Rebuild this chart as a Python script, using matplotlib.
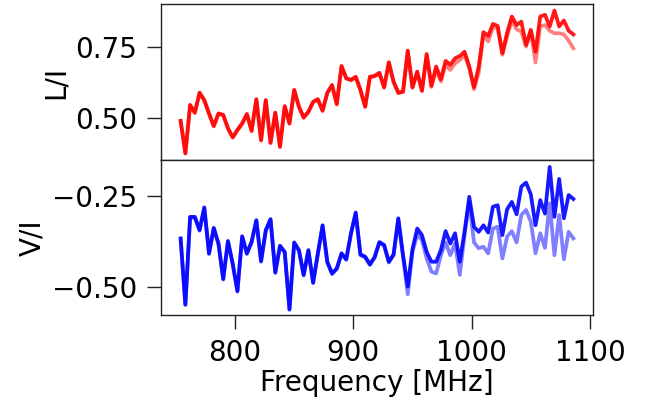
import numpy as np
import matplotlib
matplotlib.use("Agg")
import matplotlib.pyplot as plt

freq = [754 + 4 * k for k in range(84)]

li_a = [0.489, 0.375, 0.545, 0.518, 0.588, 0.562, 0.515, 0.471, 0.515, 0.510,
        0.463, 0.431, 0.457, 0.480, 0.513, 0.454, 0.565, 0.421, 0.562, 0.412,
        0.518, 0.398, 0.541, 0.480, 0.598, 0.539, 0.501, 0.521, 0.556, 0.565,
        0.525, 0.588, 0.615, 0.548, 0.682, 0.639, 0.633, 0.644, 0.598, 0.539,
        0.644, 0.647, 0.658, 0.607, 0.695, 0.627, 0.588, 0.592, 0.736, 0.607,
        0.662, 0.595, 0.724, 0.612, 0.680, 0.635, 0.700, 0.686, 0.709, 0.717,
        0.732, 0.680, 0.607, 0.680, 0.801, 0.788, 0.830, 0.823, 0.727, 0.799,
        0.856, 0.826, 0.838, 0.756, 0.809, 0.732, 0.856, 0.862, 0.821, 0.877,
        0.821, 0.842, 0.806, 0.793]

li_b = [0.487, 0.373, 0.543, 0.516, 0.586, 0.560, 0.513, 0.469, 0.513, 0.508,
        0.461, 0.429, 0.455, 0.478, 0.511, 0.452, 0.563, 0.419, 0.560, 0.410,
        0.516, 0.396, 0.539, 0.478, 0.596, 0.537, 0.499, 0.519, 0.554, 0.563,
        0.523, 0.586, 0.613, 0.546, 0.680, 0.637, 0.631, 0.642, 0.596, 0.537,
        0.642, 0.645, 0.656, 0.605, 0.693, 0.625, 0.586, 0.590, 0.734, 0.605,
        0.660, 0.593, 0.720, 0.608, 0.668, 0.627, 0.686, 0.668, 0.691, 0.703,
        0.721, 0.674, 0.600, 0.658, 0.791, 0.768, 0.818, 0.815, 0.721, 0.785,
        0.842, 0.811, 0.803, 0.750, 0.803, 0.694, 0.821, 0.826, 0.806, 0.797,
        0.797, 0.793, 0.771, 0.744]

vi_a = [-0.366, -0.547, -0.307, -0.307, -0.343, -0.281, -0.407, -0.337, -0.380, -0.477,
        -0.373, -0.435, -0.510, -0.360, -0.407, -0.375, -0.316, -0.428, -0.343, -0.313,
        -0.459, -0.386, -0.403, -0.560, -0.377, -0.398, -0.466, -0.398, -0.487, -0.407,
        -0.330, -0.430, -0.462, -0.448, -0.407, -0.423, -0.352, -0.295, -0.410, -0.416,
        -0.437, -0.417, -0.376, -0.384, -0.430, -0.410, -0.311, -0.412, -0.498, -0.395,
        -0.339, -0.357, -0.403, -0.430, -0.430, -0.398, -0.346, -0.380, -0.352, -0.430,
        -0.348, -0.252, -0.334, -0.348, -0.330, -0.350, -0.279, -0.275, -0.357, -0.286,
        -0.266, -0.300, -0.224, -0.213, -0.245, -0.330, -0.261, -0.298, -0.170, -0.307,
        -0.203, -0.311, -0.247, -0.258]

vi_b = [-0.368, -0.549, -0.309, -0.309, -0.345, -0.283, -0.409, -0.339, -0.382, -0.479,
        -0.375, -0.437, -0.512, -0.362, -0.409, -0.377, -0.318, -0.430, -0.345, -0.315,
        -0.461, -0.388, -0.405, -0.562, -0.379, -0.400, -0.468, -0.400, -0.489, -0.409,
        -0.332, -0.432, -0.464, -0.450, -0.409, -0.425, -0.354, -0.297, -0.412, -0.418,
        -0.439, -0.419, -0.378, -0.386, -0.432, -0.412, -0.313, -0.416, -0.519, -0.403,
        -0.355, -0.371, -0.421, -0.457, -0.462, -0.412, -0.377, -0.412, -0.380, -0.466,
        -0.357, -0.266, -0.377, -0.393, -0.389, -0.407, -0.339, -0.334, -0.421, -0.361,
        -0.346, -0.377, -0.302, -0.288, -0.320, -0.407, -0.352, -0.392, -0.270, -0.412,
        -0.302, -0.423, -0.348, -0.366]

li_ticks = [0.50, 0.75]
vi_ticks = [-0.50, -0.25]
x_ticks = [800, 900, 1000, 1100]

plt.rcParams['font.family'] = ['DejaVu Sans']
fs = 20

fig = plt.figure(figsize=(6.51, 4.01), dpi=100)
L, R = 161 / 651, 593 / 651
ax1 = fig.add_axes([L, 1 - 160 / 401, R - L, 156 / 401])
ax2 = fig.add_axes([L, 1 - 315 / 401, R - L, 155 / 401], sharex=ax1)

ax1.plot(freq, li_b, color='red', alpha=0.5, lw=2.7)
ax1.plot(freq, li_a, color='red', alpha=0.9, lw=2.7)
ax2.plot(freq, vi_b, color='blue', alpha=0.5, lw=2.7)
ax2.plot(freq, vi_a, color='blue', alpha=0.9, lw=2.7)

ax1.set_ylim(0.351, 0.900)
ax2.set_ylim(-0.576, -0.151)
ax1.set_yticks(li_ticks)
ax2.set_yticks(vi_ticks)
ax2.set_xticks(x_ticks)
ax1.tick_params(axis='x', which='both', bottom=False, labelbottom=False)

for ax in (ax1, ax2):
    ax.tick_params(axis='both', labelsize=fs, length=10, width=1, pad=7, color='#222222')
    for s in ax.spines.values():
        s.set_linewidth(1)
        s.set_color('#222222')

ax1.set_ylabel('L/I', fontsize=fs)
ax2.set_ylabel('V/I', fontsize=fs)
ax2.set_xlabel('Frequency [MHz]', fontsize=fs, labelpad=2)

fig.savefig('out.png', dpi=100)
